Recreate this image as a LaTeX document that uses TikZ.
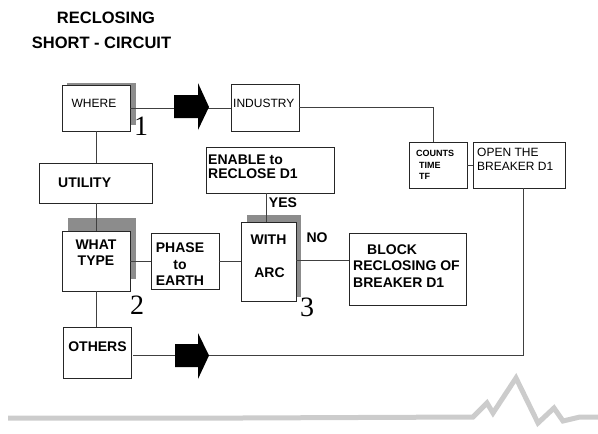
\documentclass[tikz,border=0pt]{standalone}
\usepackage{fontspec}
\setmainfont{Liberation Sans}
\newfontfamily\tnr{Liberation Serif}
\begin{document}
\begin{tikzpicture}[x=1pt,y=-1pt,
  box/.style={draw=black!85, fill=white, line width=0.8pt, inner sep=0pt, outer sep=0pt, anchor=north west},
  shadow/.style={fill=black!45, draw=none},
  wire/.style={draw=black!75, line width=0.75pt},
  bigarrow/.style={fill=black, draw=none},
  lb/.style={inner sep=0pt, font=\fontsize{14}{16}\selectfont\bfseries},
  lr/.style={inner sep=0pt, font=\fontsize{12}{14}\selectfont},
  ls/.style={inner sep=0pt, font=\fontsize{9}{11}\selectfont\bfseries},
  num/.style={inner sep=0pt, font=\fontsize{28}{30}\selectfont\tnr},
  deco/.style={draw=black!20, line width=5pt, line join=miter}
]
\useasboundingbox (0,0) rectangle (598,434);

% title
\node[inner sep=0pt, font=\fontsize{16.5}{18}\selectfont\bfseries] (title1) at (106,18) {RECLOSING};
\node[inner sep=0pt, font=\fontsize{16.5}{18}\selectfont\bfseries] (title2) at (101.5,43) {SHORT - CIRCUIT};

% shadows
\fill[shadow] (67,83) rectangle (136,125);
\fill[shadow] (68,218) rectangle (136,279);
\fill[shadow] (247,215) rectangle (301,297);

% boxes
\node[box, minimum width=68pt, minimum height=46pt] (where) at (62,85) {};
\node[box, minimum width=68pt, minimum height=47pt] (industry) at (231,84) {};
\node[box, minimum width=113pt, minimum height=40pt] (utility) at (39,163) {};
\node[box, minimum width=128pt, minimum height=46pt] (enable) at (206,147) {};
\node[box, minimum width=68pt, minimum height=60pt] (whattype) at (62,231) {};
\node[box, minimum width=68pt, minimum height=56pt] (phase) at (151,233) {};
\node[box, minimum width=55pt, minimum height=79pt] (with) at (241,222) {};
\node[box, minimum width=117pt, minimum height=72pt] (block) at (349,233) {};
\node[box, minimum width=58pt, minimum height=46pt] (counts) at (409,142) {};
\node[box, minimum width=92pt, minimum height=46pt] (open) at (473,142) {};
\node[box, minimum width=68pt, minimum height=51pt] (others) at (63,327) {};

% connectors
\draw[wire] ([yshift=-0.5pt]where.east) -- ([yshift=-0.5pt]where.east -| industry.west);
\draw[wire] (industry.east) -| ([xshift=-5pt]counts.north);
\draw[wire] (counts.east) -- (open.west);
\draw[wire] (where.south) -- (utility.north -| where.south);
\draw[wire] (utility.south -| whattype.north) -- (whattype.north);
\draw[wire] (whattype.east) -- (phase.west |- whattype.east);
\draw[wire] (phase.east) -- (with.west |- phase.east);
\draw[wire] ([yshift=1pt]with.east) -- ([yshift=1pt]with.east -| block.west);
\draw[wire] ([xshift=-2.5pt]with.north) -- ([xshift=-2.5pt]with.north |- enable.south);
\draw[wire] (whattype.south) -- (whattype.south |- others.north);
\coordinate (oe) at ([xshift=2pt,yshift=-2.5pt]others.east);
\draw[wire] (oe) -| ([xshift=4pt]open.south);

% big arrows
\fill[bigarrow] (174,95) -- (198,95) -- (198,83) -- (209,107) -- (198,130) -- (198,118) -- (174,118) -- cycle;
\fill[bigarrow] (175,344) -- (198,344) -- (198,333) -- (209,355.5) -- (198,379) -- (198,367) -- (175,367) -- cycle;

% texts
\node[lr] (tWhere) at (94,103) {WHERE};
\node[lr, anchor=west] (tInd) at (233,103.5) {INDUSTRY};
\node[lb, anchor=west] (tUtil) at (58,183) {UTILITY};
\node[lb, anchor=west] (tEn1) at (208,160) {ENABLE to};
\node[lb, anchor=west] (tEn2) at (208,174) {RECLOSE D1};
\node[lb] (tWhat) at (96,245) {WHAT};
\node[lb] (tType) at (96,260.5) {TYPE};
\node[lb] (tPh1) at (180,248) {PHASE};
\node[lb] (tPh2) at (180,265) {to};
\node[lb] (tPh3) at (180,281) {EARTH};
\node[lb] (tWith) at (268.5,240) {WITH};
\node[lb] (tArc) at (269.5,273) {ARC};
\node[lb, anchor=west] (tBl1) at (367,250) {BLOCK};
\node[lb, anchor=west] (tBl2) at (353,266) {RECLOSING OF};
\node[lb, anchor=west] (tBl3) at (353,283) {BREAKER D1};
\node[ls, anchor=west] (tC1) at (416,153.5) {COUNTS};
\node[ls, anchor=west] (tC2) at (419,165) {TIME};
\node[ls, anchor=west] (tC3) at (419,176) {TF};
\node[lr, anchor=west] (tOp1) at (477,152.5) {OPEN THE};
\node[lr, anchor=west] (tOp2) at (477,166.5) {BREAKER D1};
\node[lb] (tOth) at (97.5,347) {OTHERS};
\node[lb] (tYes) at (283,203) {YES};
\node[lb] (tNo) at (317,238) {NO};
\node[num] (n1) at (141,126) {1};
\node[num] (n2) at (137,305) {2};
\node[num] (n3) at (307,307) {3};

% bottom decoration
\draw[deco] (8,418) -- (242,418) -- (473,417) -- (487,403) -- (493,413) -- (516,378) -- (538,423) -- (554,408) -- (563,421) -- (580,417) -- (598,417);
\end{tikzpicture}
\end{document}
